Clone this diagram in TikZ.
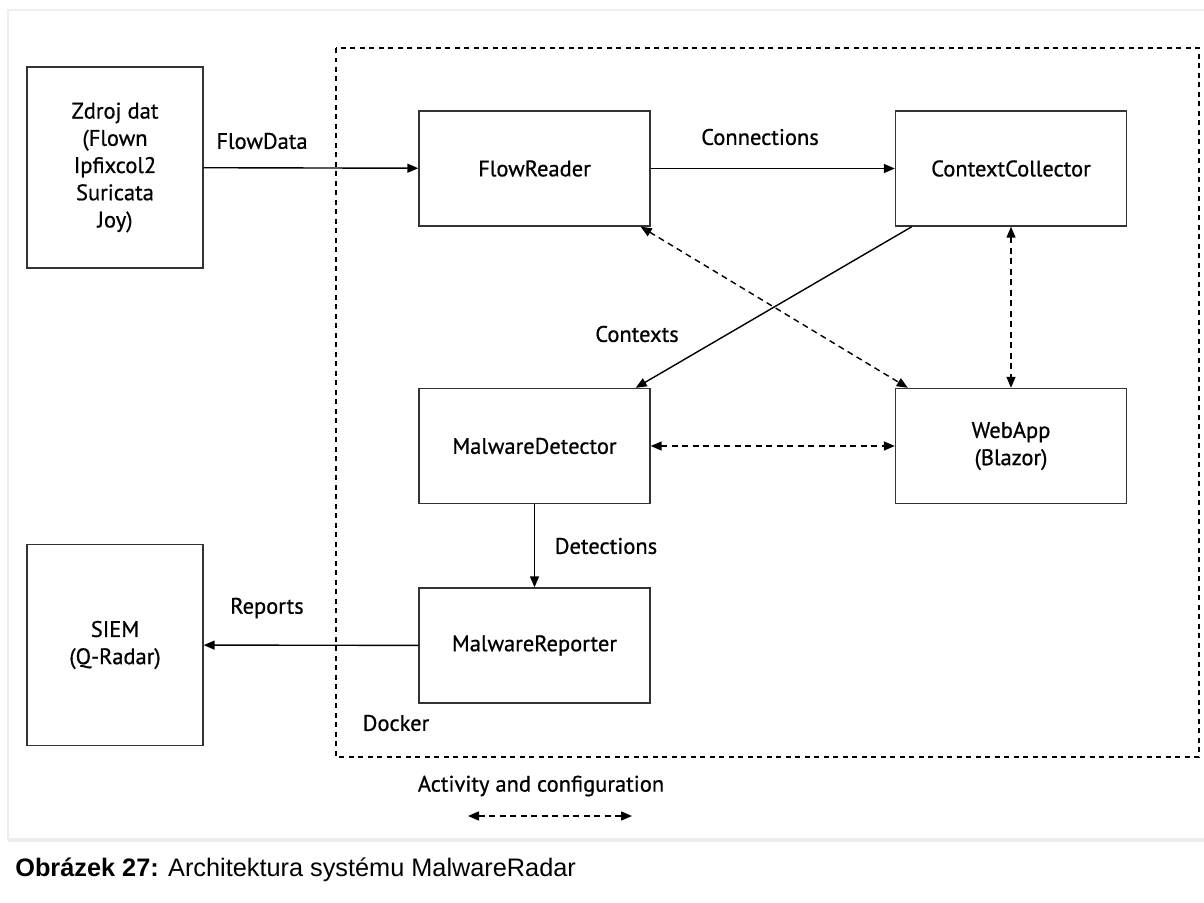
\documentclass[tikz,border=0pt]{standalone}
\usepackage{fontspec}
\setsansfont{PT Sans}[UprightFeatures={FakeBold=0.7}]
\newfontfamily\capfont{Liberation Sans}
\usepackage{tikz}
\usetikzlibrary{arrows.meta}
\usetikzlibrary{positioning}

\begin{document}
\begin{tikzpicture}[x=0.02cm, y=-0.02cm,
        comp/.style={draw=black!80, line width=0.8pt, minimum width=4.62cm, minimum height=2.3cm, align=center, font=\sffamily\fontsize{12.8}{15.5}\selectfont},
        ext/.style={comp, minimum width=3.52cm, minimum height=4.02cm},
        lbl/.style={font=\sffamily\fontsize{12.8}{15.5}\selectfont},
        flow/.style={line width=0.8pt, -{Triangle[length=2.2mm,width=1.8mm]}},
        act/.style={line width=0.8pt, dash pattern=on 1.2mm off 0.9mm, {Triangle[length=2.2mm,width=1.8mm]}-{Triangle[length=2.2mm,width=1.8mm]}}]
        \useasboundingbox (0,0) rectangle (1204,903);
        % figure frame
        \draw[black!7, line width=1.5pt] (8,840) -- (8,10) -- (1204,10);
        \draw[black!7, line width=2pt] (8,840) -- (1204,840);

        % docker container
        \draw[line width=0.7pt, dash pattern=on 1mm off 0.9mm] (336,48) rectangle (1199,757);
        \node[lbl] (docker) at (396,723) {Docker};

        \node[ext] (src) at (115,167.5) {Zdroj dat\\(Flown\\Ipfixcol2\\Suricata\\Joy)};
        \node[ext] (siem) at (115,645) {SIEM\\(Q-Radar)};

        \node[comp] (fr) at (534.5,168.5) {FlowReader};
        \node[comp] (cc) at (1011,168.5) {ContextCollector};
        \node[comp] (md) at (534.5,446) {MalwareDetector};
        \node[comp] (wa) at (1011,446) {WebApp\\(Blazor)};
        \node[comp] (mr) at (534.5,645.5) {MalwareReporter};

        \draw[flow] (src) -- (fr);
        \node[lbl] (lfd) at (262,141) {FlowData};
        \draw[flow] (fr) -- (cc);
        \node[lbl] (lcon) at (760,137) {Connections};
        \draw[flow] ([xshift=0.34cm]cc.south west) -- ([xshift=-0.3cm]md.north east);
        \node[lbl] (lctx) at (637,334) {Contexts};
        \draw[flow] (md) -- (mr);
        \node[lbl] (ldet) at (606,546) {Detections};
        \draw[flow] (mr) -- (siem);
        \node[lbl] (lrep) at (267,608) {Reports};

        \draw[act] ([xshift=-0.2cm]fr.south east) -- ([xshift=0.26cm]wa.north west);
        \draw[act] (cc) -- (wa);
        \draw[act] (md) -- (wa);

        % legend
        \node[lbl] (lact) at (541,786) {Activity and configuration};
        \coordinate (la) at (468,816);
        \coordinate (lb) at (632,816);
        \draw[act] (la) -- (lb);

        \node[anchor=west, inner sep=0pt, font=\capfont\fontsize{14.4}{16}\selectfont] (cap) at (15,870) {\textbf{Obrázek 27:} Architektura systému MalwareRadar};
    \end{tikzpicture}
\end{document}
